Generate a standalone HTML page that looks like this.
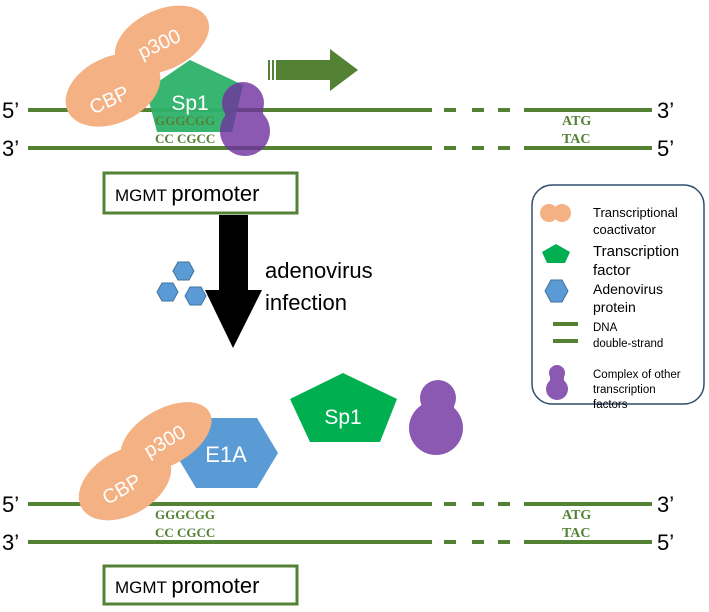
<!DOCTYPE html>
<html><head><style>body{margin:0;background:#fff}svg{display:block;font-family:"Liberation Sans",sans-serif}</style></head><body>
<svg width="709" height="612" viewBox="0 0 709 612">
<g stroke="#548235" stroke-width="4">
<line x1="28" y1="110" x2="432" y2="110"/><line x1="444" y1="110" x2="456" y2="110"/><line x1="472" y1="110" x2="484" y2="110"/><line x1="498" y1="110" x2="510" y2="110"/><line x1="524" y1="110" x2="652" y2="110"/>
<line x1="28" y1="148" x2="432" y2="148"/><line x1="444" y1="148" x2="456" y2="148"/><line x1="472" y1="148" x2="484" y2="148"/><line x1="498" y1="148" x2="510" y2="148"/><line x1="524" y1="148" x2="652" y2="148"/>
<line x1="28" y1="504" x2="432" y2="504"/><line x1="444" y1="504" x2="456" y2="504"/><line x1="472" y1="504" x2="484" y2="504"/><line x1="498" y1="504" x2="510" y2="504"/><line x1="524" y1="504" x2="652" y2="504"/>
<line x1="28" y1="542" x2="432" y2="542"/><line x1="444" y1="542" x2="456" y2="542"/><line x1="472" y1="542" x2="484" y2="542"/><line x1="498" y1="542" x2="510" y2="542"/><line x1="524" y1="542" x2="652" y2="542"/>
</g>
<g font-size="22" fill="#000"><text x="2" y="118">5’</text><text x="2" y="156">3’</text><text x="657" y="118">3’</text><text x="657" y="156">5’</text>
<text x="2" y="512">5’</text><text x="2" y="550">3’</text><text x="657" y="512">3’</text><text x="657" y="550">5’</text></g>
<g font-family="Liberation Serif,serif" font-weight="bold" fill="#548235" font-size="14">
<text x="562" y="125">ATG</text><text x="562" y="143">TAC</text><text x="562" y="519">ATG</text><text x="562" y="537">TAC</text></g>
<g font-family="Liberation Serif,serif" font-weight="bold" fill="#548235" font-size="13">
<text x="155" y="519">GGGCGG</text><text x="155" y="537">CC CGCC</text></g>
<!-- top complex -->
<polygon points="190,60 243,85 232,132 157,132 146,90" fill="#2eb16a" opacity="0.95"/>
<text x="155" y="125" font-family="Liberation Serif,serif" font-weight="bold" fill="#548235" font-size="13">GGGCGG</text>
<text x="155" y="143" font-family="Liberation Serif,serif" font-weight="bold" fill="#548235" font-size="13">CC CGCC</text>
<g fill="#f4b183"><ellipse cx="162" cy="40" rx="50" ry="30" transform="rotate(-25 162 40)"/><ellipse cx="113" cy="90" rx="50" ry="33" transform="rotate(-25 113 90)"/></g>
<text x="162" y="50" fill="#fff" font-size="20" transform="rotate(-25 162 50)" text-anchor="middle">p300</text>
<text x="112" y="106" fill="#fff" font-size="20" transform="rotate(-25 112 106)" text-anchor="middle">CBP</text>
<text x="190" y="110" fill="#fff" font-size="21" text-anchor="middle">Sp1</text>
<g fill="#7030a0" opacity="0.8"><circle cx="243" cy="103" r="21"/><circle cx="245" cy="131" r="25"/><rect x="225" y="100" width="38" height="30"/></g>
<!-- green arrow -->
<g fill="#548235"><rect x="268" y="60" width="2" height="20"/><rect x="272" y="60" width="2" height="20"/><rect x="276" y="60" width="56" height="20"/><polygon points="330,49 358,70 330,91"/></g>
<rect x="104" y="173" width="193" height="40" fill="none" stroke="#548235" stroke-width="3"/>
<text x="115" y="201" font-size="17">MGMT <tspan font-size="22">promoter</tspan></text>
<!-- black arrow -->
<polygon points="219,215 248,215 248,290 262,290 233,348 205,290 219,290" fill="#000"/>
<g fill="#5b9bd5" stroke="#41719c" stroke-width="1">
<polygon points="173,271 178,262 189,262 194,271 189,280 178,280"/>
<polygon points="157,292 162,283 173,283 178,292 173,301 162,301"/>
<polygon points="185,296 190,287 201,287 206,296 201,305 190,305"/></g>
<text x="265" y="278" font-size="22">adenovirus</text><text x="265" y="310" font-size="22">infection</text>
<!-- legend -->
<rect x="532" y="185" width="172" height="219" rx="20" fill="none" stroke="#2f4e6e" stroke-width="1.5"/>
<g fill="#f4b183"><circle cx="549" cy="213" r="9"/><circle cx="562" cy="213" r="9"/></g>
<polygon points="556,244 570,252 565,263 547,263 542,252" fill="#00b050"/>
<polygon points="545,291 551,280 562,280 568,291 562,302 551,302" fill="#5b9bd5" stroke="#41719c"/>
<g stroke="#548235" stroke-width="4"><line x1="553" y1="324" x2="578" y2="324"/><line x1="553" y1="341" x2="578" y2="341"/></g>
<g fill="#7030a0" opacity="0.8"><circle cx="557" cy="373" r="8"/><circle cx="557" cy="389" r="11"/><rect x="550" y="372" width="14" height="16"/></g>
<g font-size="13"><text x="593" y="217">Transcriptional</text><text x="593" y="234">coactivator</text></g>
<g font-size="15"><text x="593" y="256">Transcription</text><text x="593" y="275">factor</text></g>
<g font-size="14"><text x="593" y="294">Adenovirus</text><text x="593" y="312">protein</text></g>
<g font-size="11.5"><text x="593" y="331">DNA</text><text x="593" y="347">double-strand</text>
<text x="593" y="378">Complex of other</text><text x="593" y="393">transcription</text><text x="593" y="408">factors</text></g>
<!-- bottom -->
<polygon points="196,418 257,418 278,453 257,488 196,488 175,453" fill="#5b9bd5"/>
<text x="226" y="462" fill="#fff" font-size="22" text-anchor="middle">E1A</text>
<g fill="#f4b183"><ellipse cx="166" cy="437" rx="50" ry="28" transform="rotate(-30 166 437)"/><ellipse cx="125" cy="483" rx="50" ry="32" transform="rotate(-30 125 483)"/></g>
<text x="168" y="447" fill="#fff" font-size="20" transform="rotate(-30 168 447)" text-anchor="middle">p300</text>
<text x="125" y="495" fill="#fff" font-size="20" transform="rotate(-30 125 495)" text-anchor="middle">CBP</text>
<polygon points="343,373 397,399 380,442 310,442 290,399" fill="#00b050"/>
<text x="343" y="424" fill="#fff" font-size="21" text-anchor="middle">Sp1</text>
<g fill="#7030a0" opacity="0.8"><circle cx="438" cy="398" r="18"/><circle cx="436" cy="428" r="27"/><rect x="422" y="395" width="32" height="30"/></g>
<rect x="104" y="566" width="193" height="38" fill="none" stroke="#548235" stroke-width="3"/>
<text x="115" y="593" font-size="17">MGMT <tspan font-size="22">promoter</tspan></text>
</svg></body></html>
